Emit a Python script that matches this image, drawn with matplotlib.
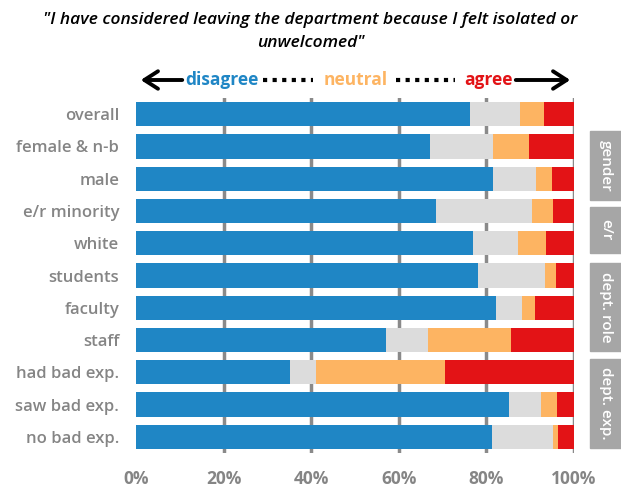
import matplotlib
matplotlib.use('Agg')
import matplotlib.pyplot as plt
import matplotlib.patches as mpatches
import numpy as np

plt.rcParams['font.family'] = ['Open Sans', 'DejaVu Sans']

# ── data (percent of respondents) ──
groups = ['overall', 'female & n-b', 'male', 'e/r minority', 'white',
          'students', 'faculty', 'staff', 'had bad exp.', 'saw bad exp.',
          'no bad exp.']
disagree = [76.3, 67.2, 81.6, 68.4, 76.9, 78.0, 82.3, 57.0, 35.2, 85.1, 81.3]
no_opinion = [11.4, 14.3, 9.7, 21.9, 10.4, 15.4, 5.9, 9.6, 5.9, 7.4, 14.0]
neutral = [5.4, 8.2, 3.7, 4.8, 6.4, 2.5, 3.0, 19.0, 29.4, 3.6, 1.1]
agree = [6.9, 10.3, 5.0, 4.9, 6.3, 4.1, 8.8, 14.4, 29.5, 3.9, 3.6]

group_labels = ['gender', 'e/r', 'dept. role', 'dept. exp.']
# box extents in figure pixels (top, bottom)
group_boxes = [(131, 200), (207, 253), (263, 351), (359, 448)]

COLORS = ['#1f86c5', '#dcdcdc', '#fdb462', '#e31316']
TXT_GRAY = '#858585'

W, H = 621, 491
fig = plt.figure(figsize=(W / 100, H / 100), dpi=100)
ax = fig.add_axes([136 / W, 1 - 453 / H, (574 - 136) / W, (453 - 98) / H])

y = np.arange(len(groups))
left = np.zeros(len(groups))
for vals, c in zip([disagree, no_opinion, neutral, agree], COLORS):
    ax.barh(y, vals, left=left, height=0.75, color=c, zorder=3)
    left += np.array(vals)

ax.set_ylim(len(groups) - 0.5, -0.5)
ax.set_xlim(0, 100)
ax.set_xticks([0, 20, 40, 60, 80, 100])
ax.set_xticklabels(['0%', '20%', '40%', '60%', '80%', '100%'],
                   fontsize=12.5, fontweight='bold', color=TXT_GRAY)
ax.set_yticks(y)
ax.set_yticklabels(groups, fontsize=12, fontweight='semibold', color=TXT_GRAY)
ax.tick_params(length=0, pad=12)
ax.tick_params(axis='x', pad=12)
ax.grid(axis='x', color='#8a8a8a', linewidth=2.5, zorder=0)
ax.get_xgridlines()[0].set_visible(False)
for s in ax.spines.values():
    s.set_visible(False)

# ── group boxes on the right ──
for lab, (top, bot) in zip(group_labels, group_boxes):
    fig.patches.append(mpatches.Rectangle(
        (590 / W, 1 - bot / H), 40 / W, (bot - top) / H,
        transform=fig.transFigure, color='#a6a6a6'))
    fig.text(606 / W, 1 - (top + bot) / 2 / H, lab, rotation=-90,
             ha='center', va='center', color='white', fontsize=11,
             fontweight='semibold')

# ── title ──
fig.text(0.5, 1 - 20 / H, '"I have considered leaving the department because I felt isolated or',
         ha='center', va='center', fontsize=12.5, style='italic', fontweight='semibold')
fig.text(0.5, 1 - 43 / H, 'unwelcomed"',
         ha='center', va='center', fontsize=12.5, style='italic', fontweight='semibold')

# ── scale header ──
yh = 1 - 80 / H
fig.text(222 / W, yh, 'disagree', color=COLORS[0], fontsize=12.5,
         fontweight='bold', ha='center', va='center')
fig.text(356 / W, yh, 'neutral', color='#fdb462', fontsize=12.5,
         fontweight='bold', ha='center', va='center')
fig.text(488 / W, yh, 'agree', color=COLORS[3], fontsize=12.5,
         fontweight='bold', ha='center', va='center')
for x0, x1 in [(263, 313), (396, 455)]:
    fig.add_artist(plt.Line2D([x0 / W, x1 / W], [yh, yh], color='black',
                              linewidth=3, linestyle=(0, (1, 1.3)),
                              transform=fig.transFigure))
arrow_kw = dict(arrowstyle='->,head_length=0.7,head_width=0.45', lw=2.8,
                color='black', mutation_scale=14)
fig.add_artist(mpatches.FancyArrowPatch((185 / W, yh), (138 / W, yh),
                                        transform=fig.transFigure, **arrow_kw))
fig.add_artist(mpatches.FancyArrowPatch((513 / W, yh), (573 / W, yh),
                                        transform=fig.transFigure, **arrow_kw))

fig.savefig('out.png', dpi=100)
